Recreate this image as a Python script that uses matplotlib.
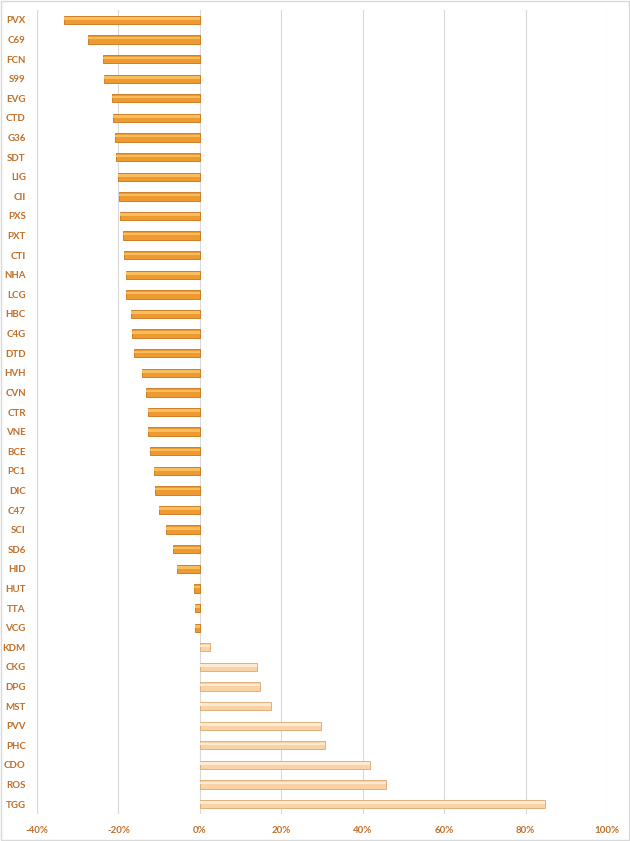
import matplotlib
matplotlib.use("Agg")
import matplotlib.pyplot as plt
import numpy as np
from matplotlib.ticker import FuncFormatter

# tickers, top to bottom
tickers = ["PVX", "C69", "FCN", "S99", "EVG", "CTD", "G36", "SDT", "LIG", "CII",
           "PXS", "PXT", "CTI", "NHA", "LCG", "HBC", "C4G", "DTD", "HVH", "CVN",
           "CTR", "VNE", "BCE", "PC1", "DIC", "C47", "SCI", "SD6", "HID", "HUT",
           "TTA", "VCG", "KDM", "CKG", "DPG", "MST", "PVV", "PHC", "CDO", "ROS", "TGG"]
# change in percent
changes = [-33.4, -27.5, -23.8, -23.6, -21.6, -21.4, -20.9, -20.6, -20.1, -19.9,
           -19.7, -18.9, -18.7, -18.2, -18.2, -17.0, -16.7, -16.2, -14.3, -13.3,
           -12.8, -12.8, -12.3, -11.3, -11.1, -10.1, -8.4, -6.6, -5.7, -1.5,
           -1.2, -1.2, 2.5, 14.0, 14.7, 17.4, 29.7, 30.7, 41.8, 45.8, 84.8]
x_ticks = [-40, -20, 0, 20, 40, 60, 80, 100]

text_color = "#C0702C"
plt.rcParams["font.family"] = ["Lato", "DejaVu Sans"]

fig = plt.figure(figsize=(6.3, 8.41), dpi=100)
ax = fig.add_axes([0.0587, 0.0323, 0.905, 0.9556])

y = np.arange(len(tickers))
vals = np.array(changes)
neg = vals < 0

face = np.where(neg, "#EE9A30", "#F9D3A6")
edge = np.where(neg, "#C7741A", "#DDA870")
light = np.where(neg, "#F8BE5E", "#FDEAD2")

ax.barh(y, vals, height=0.42, color=face, edgecolor=edge, linewidth=0.6, zorder=3)
ax.barh(y - 0.07, vals, height=0.13, color=light, linewidth=0, zorder=4)

ax.set_yticks(y)
ax.set_yticklabels(tickers)
ax.set_ylim(len(tickers) - 0.5, -0.5)
ax.set_xlim(-40, 100)
ax.set_xticks(x_ticks)
ax.xaxis.set_major_formatter(FuncFormatter(lambda v, p: f"{v:.0f}%"))

ax.tick_params(axis="both", length=0, labelsize=7, labelcolor=text_color)
ax.tick_params(axis="y", pad=8)
ax.tick_params(axis="x", pad=9)
for lab in ax.get_yticklabels() + ax.get_xticklabels():
    lab.set_fontweight("bold")

ax.grid(axis="x", color="#D9D9D9", linewidth=0.8, zorder=0)
ax.grid(axis="y", visible=False)
for s in ax.spines.values():
    s.set_visible(False)

# light frame around the chart
fig.patches.append(plt.Rectangle((0.001, 0.001), 0.998, 0.998, transform=fig.transFigure,
                                 fill=False, edgecolor="#D9D9D9", linewidth=1))

fig.savefig("out.png", dpi=100)
